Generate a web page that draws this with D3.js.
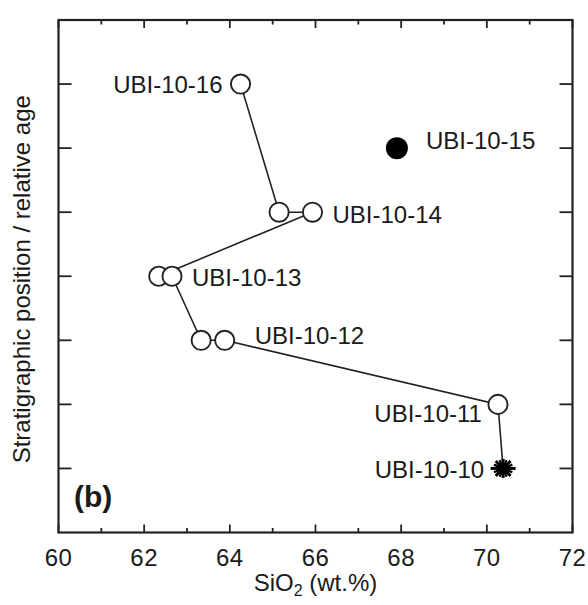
<!DOCTYPE html>
<html>
<head>
<meta charset="utf-8">
<script src="https://cdn.jsdelivr.net/npm/d3@7"></script>
<style>
  html, body { margin: 0; padding: 0; background: #fff; }
  text { font-family: "Liberation Sans", Arial, Helvetica, sans-serif; fill: #1a1a1a; }
</style>
</head>
<body>
<svg id="chart" width="588" height="605"></svg>
<script>
// SiO2 profile through the section, ordered from top (youngest) to base
const sampleIds = ["UBI-10-16", "UBI-10-14", "UBI-10-14", "UBI-10-13", "UBI-10-13",
                   "UBI-10-12", "UBI-10-12", "UBI-10-11", "UBI-10-10"];
const sio2Values = [64.25, 65.15, 65.93, 62.34, 62.65, 63.33, 63.88, 70.26, 70.38];
const stratPositions = [7, 5, 5, 4, 4, 3, 3, 2, 1];
const markerTypes = ["open", "open", "open", "open", "open", "open", "open", "open", "asterisk"];

// sample off the main trend
const outlierIds = ["UBI-10-15"];
const outlierSio2 = [67.9];
const outlierPositions = [6];

const xTickValues = [60, 62, 64, 66, 68, 70, 72];
const xMinorTicks = [61, 63, 65, 67, 69, 71];
const yTickValues = [1, 2, 3, 4, 5, 6, 7];

// label placement per sample: anchor side and offsets from the mark
const labelPlacement = {
  "UBI-10-16": { at: 64.25, anchor: "end",   dx: -18, dy: 0 },
  "UBI-10-15": { at: 67.9,  anchor: "start", dx: 29,  dy: -8 },
  "UBI-10-14": { at: 65.93, anchor: "start", dx: 20,  dy: 2 },
  "UBI-10-13": { at: 62.65, anchor: "start", dx: 20,  dy: 1 },
  "UBI-10-12": { at: 63.88, anchor: "start", dx: 30,  dy: -5 },
  "UBI-10-11": { at: 70.26, anchor: "end",   dx: -16, dy: 9 },
  "UBI-10-10": { at: 70.38, anchor: "end",   dx: -19, dy: 1 }
};

const svg = d3.select("#chart");
const plotLeft = 58.5, plotRight = 572.5, plotTop = 20, plotBottom = 532.5;

const x = d3.scaleLinear().domain([60, 72]).range([plotLeft, plotRight]);
const y = d3.scaleLinear().domain([0, 8]).range([plotBottom, plotTop]);

const ink = "#222";
const fontSize = 24;

// ticks (drawn inward on all four sides)
const tickG = svg.append("g").attr("stroke", ink).attr("stroke-width", 1.8);
xTickValues.forEach(v => {
  tickG.append("line").attr("x1", x(v)).attr("x2", x(v)).attr("y1", plotBottom).attr("y2", plotBottom - 8);
  tickG.append("line").attr("x1", x(v)).attr("x2", x(v)).attr("y1", plotTop).attr("y2", plotTop + 8);
});
xMinorTicks.forEach(v => {
  tickG.append("line").attr("x1", x(v)).attr("x2", x(v)).attr("y1", plotBottom).attr("y2", plotBottom - 4.5);
  tickG.append("line").attr("x1", x(v)).attr("x2", x(v)).attr("y1", plotTop).attr("y2", plotTop + 4.5);
});
yTickValues.forEach(v => {
  tickG.append("line").attr("x1", plotLeft).attr("x2", plotLeft + 13).attr("y1", y(v)).attr("y2", y(v));
  tickG.append("line").attr("x1", plotRight).attr("x2", plotRight - 13).attr("y1", y(v)).attr("y2", y(v));
});

// frame
svg.append("rect")
  .attr("x", plotLeft).attr("y", plotTop)
  .attr("width", plotRight - plotLeft).attr("height", plotBottom - plotTop)
  .attr("fill", "none").attr("stroke", ink).attr("stroke-width", 2.2);

// x tick labels
svg.append("g").selectAll("text").data(xTickValues).join("text")
  .attr("x", d => x(d)).attr("y", plotBottom + 33.5)
  .attr("text-anchor", "middle")
  .attr("font-size", fontSize)
  .attr("letter-spacing", 0.5)
  .text(d => d);

// axis titles
const xt = svg.append("text")
  .attr("x", (plotLeft + plotRight) / 2).attr("y", 591)
  .attr("text-anchor", "middle").attr("font-size", fontSize);
xt.append("tspan").text("SiO");
xt.append("tspan").attr("font-size", 16).attr("dy", 5).text("2");
xt.append("tspan").attr("dy", -5).text(" (wt.%)");

svg.append("text")
  .attr("transform", `translate(30, ${(plotTop + plotBottom) / 2 + 3}) rotate(-90)`)
  .attr("text-anchor", "middle").attr("font-size", fontSize)
  .text("Stratigraphic position / relative age");

// panel tag
svg.append("text")
  .attr("x", 74).attr("y", 507)
  .attr("font-size", 30).attr("font-weight", "bold")
  .text("(b)");

// connecting trend line
const pts = sio2Values.map((v, i) => ({ id: sampleIds[i], v, p: stratPositions[i], m: markerTypes[i] }));
svg.append("path")
  .datum(pts)
  .attr("fill", "none").attr("stroke", ink).attr("stroke-width", 1.6)
  .attr("d", d3.line().x(d => x(d.v)).y(d => y(d.p)));

// open circles
svg.append("g").selectAll("circle").data(pts.filter(d => d.m === "open")).join("circle")
  .attr("cx", d => x(d.v)).attr("cy", d => y(d.p)).attr("r", 9.6)
  .attr("fill", "#fff").attr("stroke", ink).attr("stroke-width", 1.9);

// asterisk markers: eight spokes, the horizontal one widest
const star = pts.filter(d => d.m === "asterisk");
const spokes = [
  { a: 0, r: 12.5, w: 3 }, { a: 90, r: 9.5, w: 3 },
  { a: 45, r: 10.5, w: 3 }, { a: 135, r: 10.5, w: 3 },
  { a: 22.5, r: 10, w: 2.2 }, { a: 67.5, r: 9, w: 2.2 },
  { a: 112.5, r: 9, w: 2.2 }, { a: 157.5, r: 10, w: 2.2 }
];
star.forEach(d => {
  const g = svg.append("g").attr("transform", `translate(${x(d.v)},${y(d.p)})`);
  spokes.forEach(s => {
    const t = s.a * Math.PI / 180;
    g.append("line")
      .attr("x1", -s.r * Math.cos(t)).attr("y1", -s.r * Math.sin(t))
      .attr("x2", s.r * Math.cos(t)).attr("y2", s.r * Math.sin(t))
      .attr("stroke", "#000").attr("stroke-width", s.w);
  });
  g.append("circle").attr("r", 4.5).attr("fill", "#000");
});

// filled outlier
svg.append("g").selectAll("circle").data(outlierIds.map((id, i) => ({ id, v: outlierSio2[i], p: outlierPositions[i] })))
  .join("circle")
  .attr("cx", d => x(d.v)).attr("cy", d => y(d.p)).attr("r", 11)
  .attr("fill", "#000");

// sample labels
const labelData = yTickValues.map(p => {
  const id = p === 6 ? outlierIds[0] : sampleIds[stratPositions.indexOf(p)];
  return { id, p };
});
svg.append("g").selectAll("text").data(labelData).join("text")
  .attr("x", d => x(labelPlacement[d.id].at) + labelPlacement[d.id].dx)
  .attr("y", d => y(d.p) + labelPlacement[d.id].dy)
  .attr("dominant-baseline", "central")
  .attr("text-anchor", d => labelPlacement[d.id].anchor)
  .attr("font-size", fontSize)
  .text(d => d.id);
</script>
</body>
</html>
